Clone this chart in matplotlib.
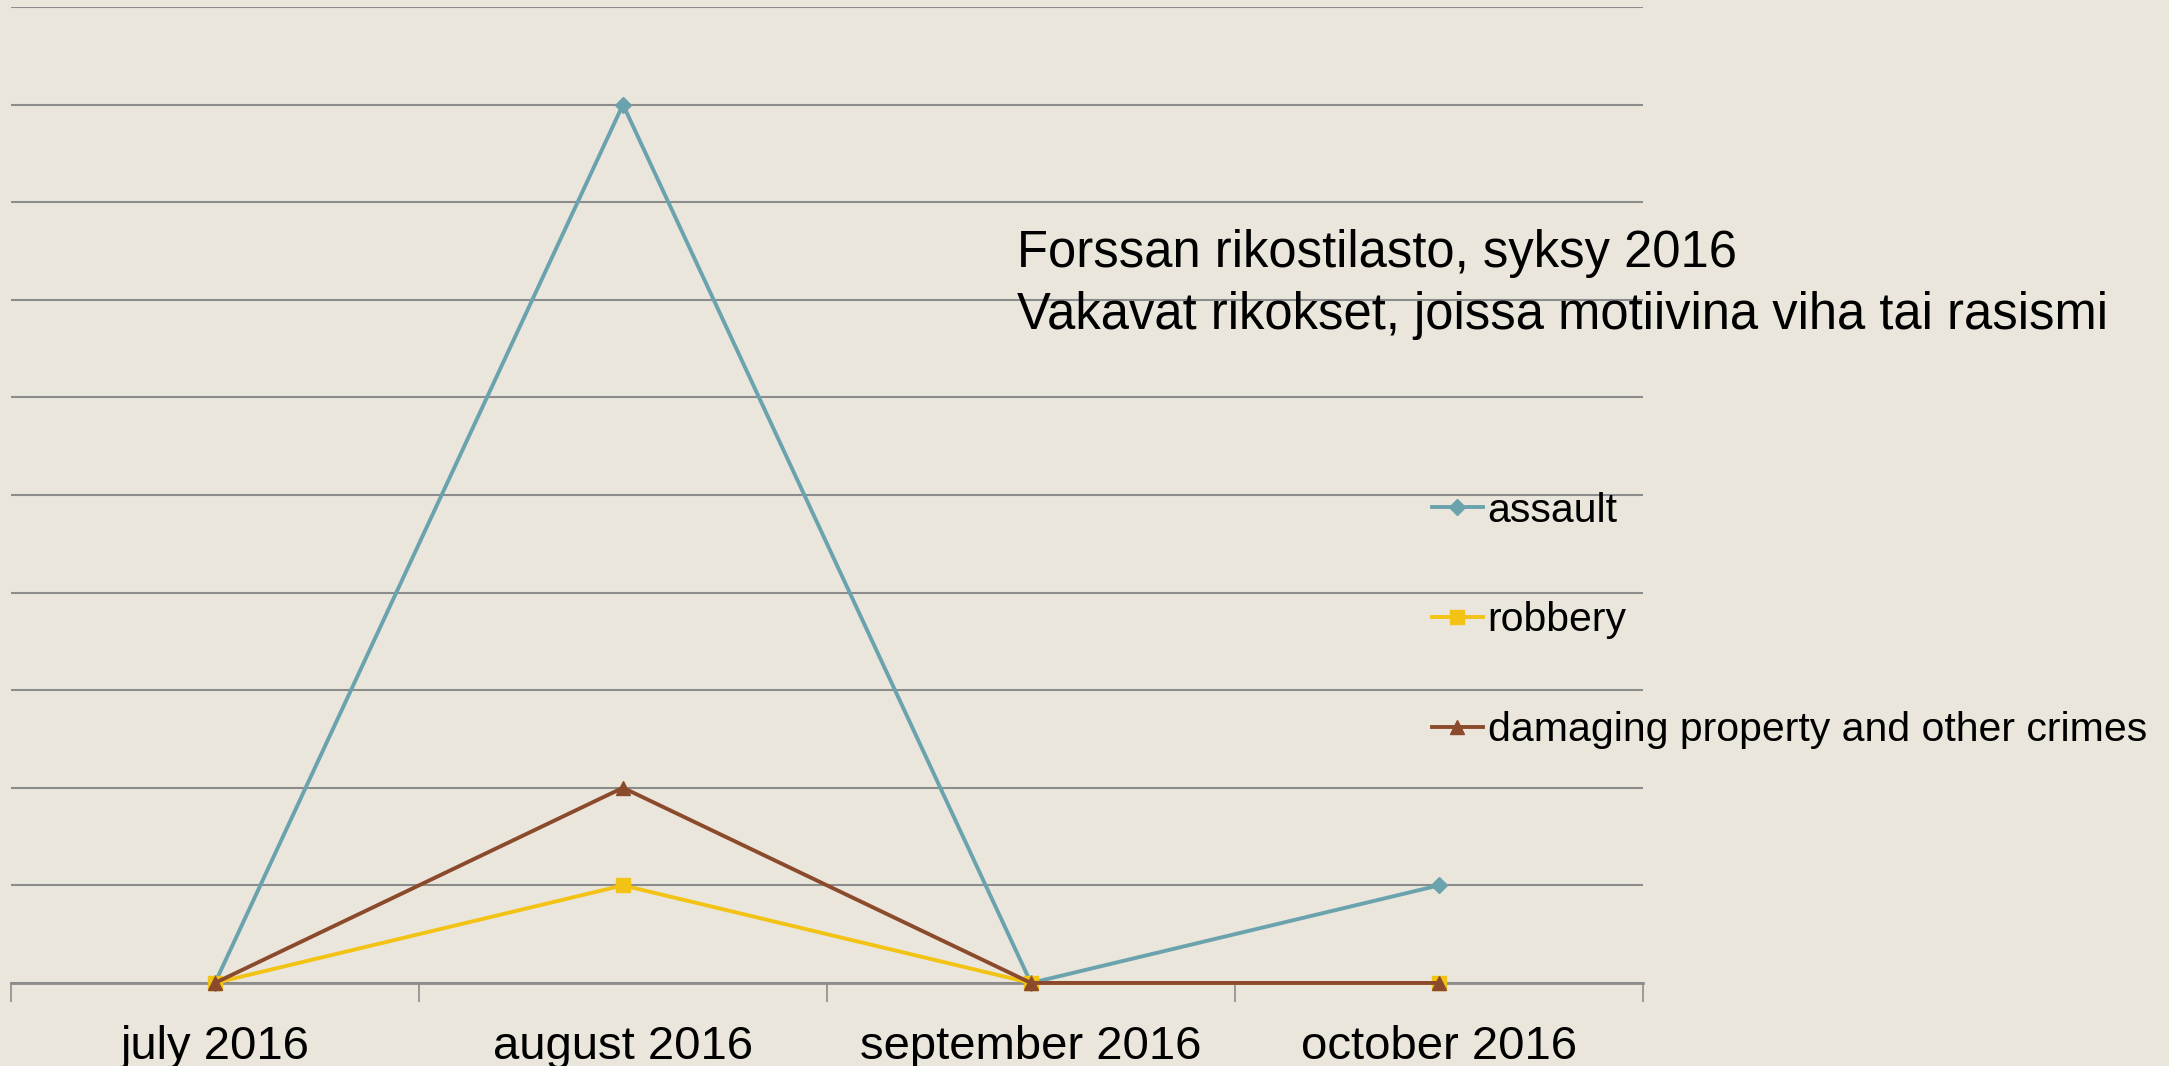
import numpy as np
import matplotlib.pyplot as plt

months = ['july 2016', 'august 2016', 'september 2016', 'october 2016']
assault = [0, 9, 0, 1]
robbery = [0, 1, 0, 0]
damaging = [0, 2, 0, 0]

title_lines = ['Forssan rikostilasto, syksy 2016',
               'Vakavat rikokset, joissa motiivina viha tai rasismi']

BG = '#EAE6DC'
plt.rcParams['font.family'] = ['Liberation Sans', 'DejaVu Sans']

fig = plt.figure(figsize=(21.69, 10.66), dpi=100, facecolor=BG)
ax = fig.add_axes([0.00507, 0.0779, 0.7524, 0.9156], facecolor=BG)

x = np.arange(len(months))
ax.plot(x, assault, color='#6AA3AE', lw=2.8, marker='D', ms=8, label='assault', clip_on=False)
ax.plot(x, robbery, color='#F2C314', lw=2.8, marker='s', ms=10, label='robbery', clip_on=False)
ax.plot(x, damaging, color='#8B4A2B', lw=2.8, marker='^', ms=10,
        label='damaging property and other crimes', clip_on=False)

ax.set_xlim(-0.5, 3.5)
ax.set_ylim(0, 10)
ax.set_yticks(range(0, 11))
ax.yaxis.grid(True, color='#8C8C8C', lw=1.5)
ax.set_axisbelow(True)
ax.tick_params(axis='y', left=False, labelleft=False)

ax.set_xticks(x)
ax.set_xticklabels(months, fontsize=34)
ax.tick_params(axis='x', which='major', length=0, pad=30)
ax.set_xticks(np.arange(-0.5, 4.0, 1.0), minor=True)
ax.tick_params(axis='x', which='minor', length=14, width=1.2, color='#8C8C8C')

for s in ['left', 'right', 'top']:
    ax.spines[s].set_visible(False)
ax.spines['bottom'].set_color('#8C8C8C')
ax.spines['bottom'].set_linewidth(2)
ax.spines['bottom'].set_zorder(1)

# title block sits inside the plot on the right
fig.text(0.469, 0.7625, title_lines[0], fontsize=36.5, va='center', ha='left')
fig.text(0.469, 0.704, title_lines[1], fontsize=36.5, va='center', ha='left')

leg = ax.legend(loc='center left', bbox_to_anchor=(0.660, 0.418), bbox_transform=fig.transFigure,
                frameon=False, fontsize=29.5, labelspacing=1.75, handlelength=1.25,
                handletextpad=0.12, borderaxespad=0, borderpad=0)

fig.savefig('out.png', dpi=100, facecolor=BG)
